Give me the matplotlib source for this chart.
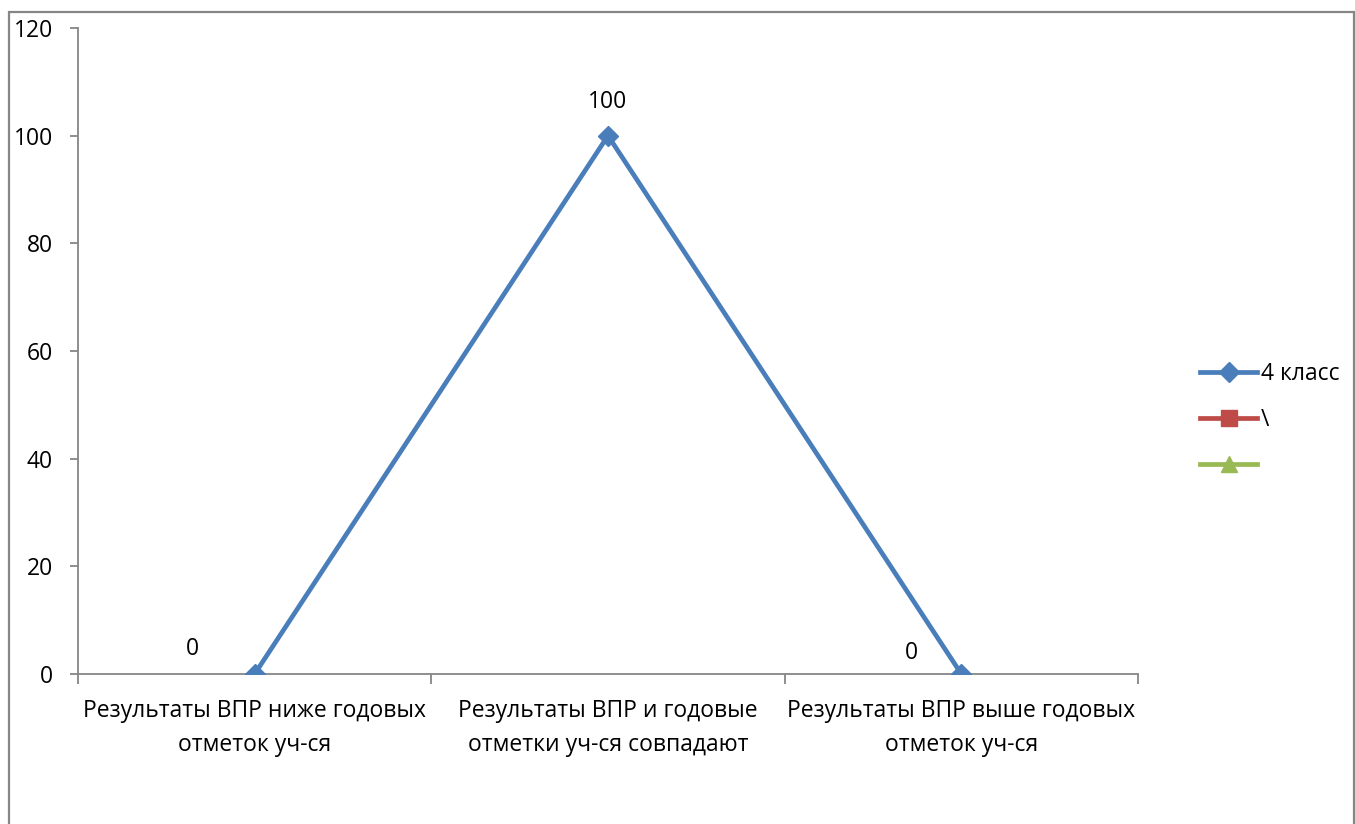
import numpy as np
import matplotlib as mpl
import matplotlib.pyplot as plt
from matplotlib.patches import Rectangle

mpl.rcParams['font.family'] = ['Open Sans', 'DejaVu Sans']

# data
categories = ['Результаты ВПР ниже годовых\nотметок уч-ся',
              'Результаты ВПР и годовые\nотметки уч-ся совпадают',
              'Результаты ВПР выше годовых\nотметок уч-ся']
class4 = [0, 100, 0]
series2 = [np.nan, np.nan, np.nan]
series3 = [np.nan, np.nan, np.nan]
yticks = [0, 20, 40, 60, 80, 100, 120]

blue = '#4A7EBB'
red = '#BE4B48'
green = '#98B954'
axis_gray = '#868686'
fs = 16.5

fig = plt.figure(figsize=(13.55, 8.24), dpi=100)
ax = fig.add_axes([78/1355, 1-674/824, (1138-78)/1355, (674-28)/824])

xs = np.arange(len(categories))
ax.plot(xs, class4, color=blue, lw=3.4, marker='D', ms=10, label='4 класс', zorder=5)
ax.plot(xs, series2, color=red, lw=3.4, marker='s', ms=11, label='\\')
ax.plot(xs, series3, color=green, lw=3.4, marker='^', ms=12, label=' ')

# data labels (Excel "left"/"above" positions)
label_offsets = [(-45, 18), (0, 24), (-36, 15)]
for x, v, off in zip(xs, class4, label_offsets):
    ax.annotate(f'{v}', (x, v), xytext=off, textcoords='offset points',
                ha='center', va='center', fontsize=fs)

ax.set_xlim(-0.5, 2.5)
ax.set_ylim(0, 120)
ax.set_yticks(yticks)
ax.tick_params(axis='y', labelsize=fs, length=6, width=1.3, color=axis_gray, pad=12)
ax.set_xticks([-0.5, 0.5, 1.5, 2.5])
ax.set_xticklabels([])
ax.set_xticks(xs, minor=True)
ax.set_xticklabels(categories, minor=True, fontsize=fs, linespacing=1.55)
ax.tick_params(axis='x', which='major', length=7, width=1.3, color=axis_gray, direction='out')
ax.tick_params(axis='x', which='minor', length=0, pad=18)

for s in ['top', 'right']:
    ax.spines[s].set_visible(False)
for s in ['left', 'bottom']:
    ax.spines[s].set_color(axis_gray)
    ax.spines[s].set_linewidth(1.3)
ax.spines['bottom'].set_zorder(1)

leg = ax.legend(loc='center left', bbox_to_anchor=(1.039, 0.393), frameon=False,
                fontsize=fs, handlelength=2.5, handletextpad=0.15, labelspacing=0.97)

# chart border
fig.patches.append(Rectangle((8.5/1355, -0.01), 1345/1355, 1.01 - 12/824,
                             transform=fig.transFigure, fill=False,
                             edgecolor=axis_gray, lw=1.6))

fig.savefig('out.png', dpi=100)
